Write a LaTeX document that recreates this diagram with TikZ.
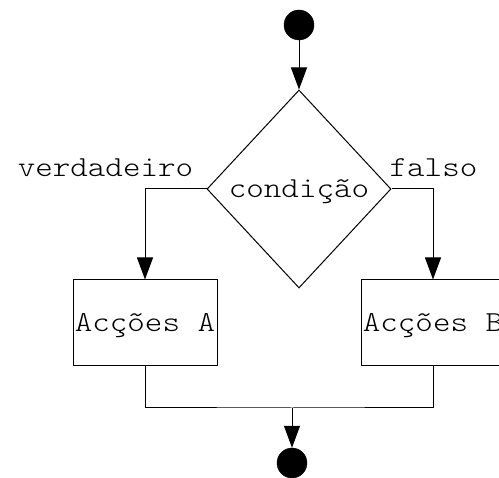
\documentclass[tikz,border=0pt]{standalone}
\usepackage{fontspec}
\usetikzlibrary{arrows.meta,shapes.geometric}
% light typewriter face, widened to the 17.5pt character pitch
\newfontfamily\flowmono{lmmonolt10-regular}[Extension=.otf, FakeStretch=1.15]
\tikzset{
  flowtext/.style={font=\flowmono\fontsize{29}{34}\selectfont},
  flowline/.style={line width=1pt, draw=black},
  flowarrow/.style={flowline, -{Triangle[length=22pt,width=16pt]}},
  endpoint/.style={circle, fill=black, draw=black, minimum size=30pt, inner sep=0pt},
  decision/.style={diamond, flowline, flowtext, minimum width=184pt, minimum height=198pt,
    inner sep=0pt, text height=17pt, text depth=0pt},
  action/.style={rectangle, flowline, flowtext, minimum width=144pt, minimum height=86pt,
    inner sep=0pt, text height=17pt, text depth=0pt},
  branchlabel/.style={flowtext, anchor=base, inner sep=0pt}
}
\begin{document}
\begin{tikzpicture}[x=1pt, y=-1pt]
  \useasboundingbox (0,0) rectangle (499,478);

  % start and end points
  \node[endpoint] (start) at (299,25) {};
  \node[endpoint] (stop) at (292,463) {};

  % decision and the two actions
  \node[decision] (cond) at (299,189) {condição};
  \node[action] (acta) at (145,323) {Acções A};
  \node[action] (actb) at (433,323) {Acções B};

  % branch labels
  \node[branchlabel] (ltrue) at (105.5,177) {verdadeiro};
  \node[branchlabel] (lfalse) at (433.5,177) {falso};

  % merge point below the actions
  \coordinate (merge) at (292,408);

  % connectors
  \draw[flowarrow] (start) -- (cond.north);
  \draw[flowarrow] (cond.west) -| (acta.north);
  \draw[flowarrow] (cond.east) -| (actb.north);
  \draw[flowline] (acta.south) |- (merge) -| (actb.south);
  \draw[flowarrow] (merge) -- (stop.north);
\end{tikzpicture}
\end{document}
